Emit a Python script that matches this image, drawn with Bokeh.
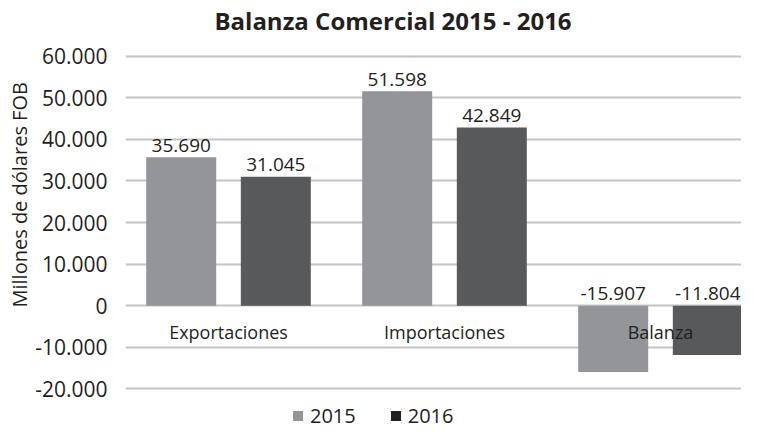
import numpy as np
from bokeh.plotting import figure
from bokeh.models import ColumnDataSource, FixedTicker, Label, Legend, LegendItem, Range1d, Title
from bokeh.transform import dodge
from bokeh.core.properties import value
from bokeh.embed import file_html
from bokeh.resources import INLINE

# ---- data ----
categories = ["Exportaciones", "Importaciones", "Balanza"]
series_names = ["2015", "2016"]
values_2015 = [35690, 51598, -15907]
values_2016 = [31045, 42849, -11804]
tick_values = [-20000, -10000, 0, 10000, 20000, 30000, 40000, 50000, 60000]
tick_labels = ["-20.000", "-10.000", "0", "10.000", "20.000", "30.000", "40.000", "50.000", "60.000"]
title_text = "Balanza Comercial 2015 - 2016"
y_axis_title = "Millones de dólares FOB"


def fmt(v):
    return f"{v:,}".replace(",", ".")


FONT = "Open Sans"
TEXT = "#231f20"
C15 = "#939598"
C16 = "#58595b"
C16_LEG = "#231f20"
GRID = "#c4c4c4"

x_pos = list(range(len(categories)))
src = ColumnDataSource(dict(
    x=x_pos,
    cat=categories,
    v15=values_2015,
    v16=values_2016,
    l15=[fmt(v) for v in values_2015],
    l16=[fmt(v) for v in values_2016],
    y15=[max(v, 0) for v in values_2015],
    y16=[max(v, 0) for v in values_2016],
    zero=[0] * len(categories),
))

p = figure(width=741, height=430, output_backend="svg", toolbar_location=None,
           title=None,
           x_range=Range1d(-0.4769, 2.3750), y_range=Range1d(-29976, 73389),
           x_axis_location=None,
           min_border_left=125, min_border_right=0, min_border_top=0, min_border_bottom=0)
p.outline_line_color = None
p.background_fill_color = "white"
p.border_fill_color = "white"

# axis
p.yaxis.ticker = FixedTicker(ticks=tick_values)
p.yaxis.major_label_overrides = {v: l for v, l in zip(tick_values, tick_labels)}
p.yaxis.axis_line_color = None
p.yaxis.major_tick_line_color = None
p.yaxis.minor_tick_line_color = None
p.yaxis.major_label_standoff = 12
p.yaxis.major_label_text_font = FONT
p.yaxis.major_label_text_font_size = "21px"
p.yaxis.major_label_text_color = TEXT

p.ygrid.ticker = FixedTicker(ticks=tick_values)
p.ygrid.grid_line_color = GRID
p.ygrid.grid_line_width = 2
p.xgrid.grid_line_color = None

off = 0.219
bw = 0.324
p.vbar(x=dodge("x", -off), top="v15", width=bw, source=src, fill_color=C15, line_color=None)
p.vbar(x=dodge("x", off), top="v16", width=bw, source=src, fill_color=C16, line_color=None)

common = dict(text_align="center", text_baseline="alphabetic", text_font=value(FONT), text_color=TEXT, source=src)
p.text(x=dodge("x", -off), y="y15", text="l15", y_offset=-12, text_font_size="19px", **common)
p.text(x=dodge("x", off), y="y16", text="l16", y_offset=-12, text_font_size="19px", **common)
p.text(x="x", y="zero", text="cat", y_offset=26, text_font_size="18px", **common)

# legend proxies (zero-size markers at the bar tops; only their swatches show)
r_leg15 = p.scatter(x=dodge("x", -off), y="y15", size=0, marker="square", source=src,
                    fill_color=C15, line_color=None)
r_leg16 = p.scatter(x=dodge("x", off), y="y16", size=0, marker="square", source=src,
                    fill_color=C16_LEG, line_color=None)
legend = Legend(items=[LegendItem(label=series_names[0], renderers=[r_leg15], index=0),
                       LegendItem(label=series_names[1], renderers=[r_leg16], index=0)],
                orientation="horizontal", location=(160, 1), padding=0, margin=0,
                spacing=27, label_standoff=0, glyph_width=25, glyph_height=25,
                border_line_color=None, background_fill_alpha=0,
                label_text_font=FONT, label_text_font_size="20px", label_text_color=TEXT)
p.add_layout(legend)

# chart title
p.add_layout(Label(x=267.5, y=410.3, x_units="screen", y_units="screen", text=title_text,
                   text_align="center", text_baseline="alphabetic", text_font=FONT,
                   text_font_style="bold", text_font_size="24px", text_color=TEXT))
# y axis title
p.add_layout(Title(text=y_axis_title, align="left", offset=123, vertical_align="bottom",
                   standoff=0, text_font=FONT, text_font_style="normal",
                   text_font_size="20px", text_color=TEXT), "left")

open("out.html", "w").write(file_html(p, INLINE))
